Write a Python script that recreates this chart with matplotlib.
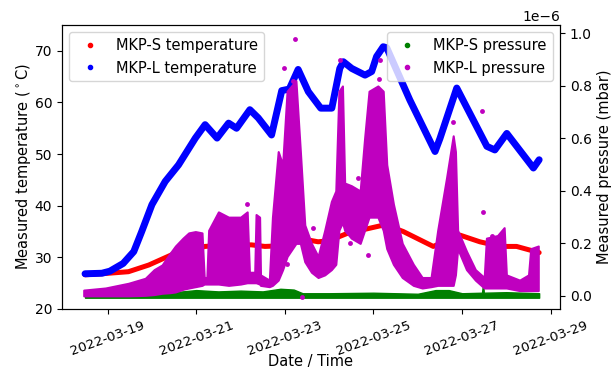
#!/usr/bin/env python3
"""MKP-S / MKP-L temperature and pressure log, 2022-03-18 .. 2022-03-28."""

import matplotlib
matplotlib.use("Agg")
import matplotlib.pyplot as plt
from matplotlib.lines import Line2D
import pandas as pd

START = pd.Timestamp("2022-03-18 00:00")

# ── temperatures (deg C), time in days since START ──
mkp_l_days = [0.49, 0.87, 1.05, 1.17, 1.35, 1.59, 1.77, 2.00, 2.30, 2.60, 2.98,
              3.20, 3.47, 3.73, 3.91, 4.21, 4.40, 4.70, 4.93, 5.10, 5.30, 5.53,
              5.81, 6.06, 6.24, 6.32, 6.51, 6.81, 6.96, 7.07, 7.22, 7.30, 7.82,
              8.39, 8.50, 8.88, 9.56, 9.74, 10.01, 10.61, 10.74]
mkp_l_temp = [26.8, 26.9, 27.3, 27.9, 28.8, 31.1, 35.0, 40.2, 44.7, 47.9, 53.1,
              55.7, 53.1, 56.0, 55.0, 58.6, 57.0, 53.7, 62.3, 62.6, 66.4, 62.1,
              58.9, 58.9, 66.6, 67.9, 66.6, 65.3, 66.0, 68.9, 70.8, 70.6, 60.5,
              50.5, 53.0, 62.8, 51.5, 50.8, 54.0, 47.3, 48.9]

mkp_s_days = [0.49, 1.02, 1.47, 1.93, 2.45, 2.75, 3.20, 3.73, 4.25, 4.55, 4.85,
              5.30, 5.75, 6.00, 6.43, 6.85, 7.26, 7.67, 8.35, 8.95, 9.40, 9.86,
              10.23, 10.74]
mkp_s_temp = [26.6, 26.9, 27.2, 28.5, 30.5, 31.1, 32.1, 32.4, 32.4, 32.1, 32.2,
              33.7, 33.0, 33.2, 34.7, 35.5, 36.3, 35.0, 32.1, 34.3, 33.0, 32.1,
              32.1, 30.9]

# ── pressures (1e-6 mbar): MKP-S narrow band ──
mkp_s_p_days = [0.49, 1.5, 2.0, 2.5, 3.0, 3.5, 4.0, 4.5, 4.9, 5.2, 5.4, 6.0,
                7.0, 8.0, 8.4, 8.7, 9.0, 9.45, 9.47, 9.48, 9.49, 10.0, 10.74]
mkp_s_p_hi = [0.004, 0.005, 0.010, 0.014, 0.022, 0.017, 0.020, 0.017, 0.027,
              0.024, 0.010, 0.010, 0.012, 0.008, 0.022, 0.022, 0.010, 0.012,
              0.040, 0.040, 0.012, 0.014, 0.010]
mkp_s_p_lo = [-0.007] * len(mkp_s_p_days)

# ── MKP-L pressure: envelope of the dense band ──
mkp_l_p_days = [0.46, 0.95, 1.47, 1.85, 2.05, 2.23, 2.40, 2.53, 2.70, 2.83,
                2.98, 3.13, 3.18, 3.24, 3.28, 3.50, 3.73, 4.00, 4.15, 4.20,
                4.32, 4.35, 4.43, 4.45, 4.65, 4.72, 4.85, 4.95, 5.05, 5.25,
                5.35, 5.45, 5.60, 5.75, 5.90, 6.05, 6.15, 6.22, 6.30, 6.35,
                6.50, 6.70, 6.80, 6.90, 7.10, 7.22, 7.30, 7.45, 7.65, 7.90,
                8.10, 8.30, 8.45, 8.65, 8.80, 8.85, 8.90, 9.10, 9.30, 9.50,
                9.55, 9.80, 9.95, 10.00, 10.30, 10.50, 10.55, 10.72]
mkp_l_p_lo = [0.000, 0.000, 0.000, 0.002, 0.005, 0.010, 0.012, 0.015, 0.025,
              0.030, 0.035, 0.040, 0.045, 0.045, 0.045, 0.045, 0.040, 0.045,
              0.050, 0.050, 0.050, 0.050, 0.045, 0.040, 0.035, 0.040, 0.060,
              0.100, 0.150, 0.200, 0.200, 0.130, 0.090, 0.070, 0.080, 0.100,
              0.120, 0.250, 0.280, 0.250, 0.220, 0.200, 0.250, 0.300, 0.300,
              0.250, 0.180, 0.120, 0.070, 0.040, 0.030, 0.035, 0.040, 0.040,
              0.040, 0.080, 0.180, 0.100, 0.060, 0.030, 0.030, 0.030, 0.030,
              0.030, 0.020, 0.020, 0.020, 0.020]
mkp_l_p_hi = [0.022, 0.030, 0.048, 0.067, 0.100, 0.118, 0.160, 0.190, 0.220,
              0.240, 0.245, 0.240, 0.070, 0.070, 0.250, 0.320, 0.300, 0.300,
              0.320, 0.090, 0.090, 0.310, 0.300, 0.080, 0.060, 0.300, 0.550,
              0.500, 0.780, 0.820, 0.550, 0.270, 0.200, 0.150, 0.250, 0.360,
              0.400, 0.780, 0.800, 0.430, 0.420, 0.400, 0.600, 0.780, 0.800,
              0.780, 0.500, 0.350, 0.200, 0.120, 0.070, 0.070, 0.250, 0.450,
              0.610, 0.550, 0.250, 0.170, 0.100, 0.070, 0.220, 0.230, 0.260,
              0.080, 0.060, 0.080, 0.180, 0.190]

# stray MKP-L pressure readings outside the band
stray_days = [4.14, 4.97, 5.04, 5.19, 5.23, 5.38, 5.64, 6.24, 6.47, 6.66, 6.88,
              7.12, 7.15, 7.52, 8.80, 9.46, 9.48, 9.67]
stray_p = [0.35, 0.87, 0.12, 0.82, 0.98, -0.003, 0.26, 0.898, 0.20, 0.45,
           0.156, 0.825, 0.898, 0.137, 0.664, 0.705, 0.32, 0.23]

tick_days = [1, 3, 5, 7, 9, 11]


def to_time(days):
    return START + pd.to_timedelta(days, unit="D")


def main() -> None:
    plt.rcParams["font.size"] = 10.5
    plt.rcParams["ytick.labelsize"] = 10
    fig, ax = plt.subplots(figsize=(6.13, 3.69), dpi=100)
    fig.subplots_adjust(left=0.101, right=0.9135, bottom=0.163, top=0.932)
    ax2 = ax.twinx()

    # ── temperatures ──
    ax.plot(to_time(mkp_s_days), mkp_s_temp, color="r", lw=3.6,
            solid_capstyle="round", solid_joinstyle="round")
    ax.plot(to_time(mkp_l_days), mkp_l_temp, color="b", lw=5,
            solid_capstyle="round", solid_joinstyle="round")

    # ── pressures (mbar) ──
    ax2.fill_between(to_time(mkp_s_p_days), [v * 1e-6 for v in mkp_s_p_lo],
                     [v * 1e-6 for v in mkp_s_p_hi], color="g", lw=1)
    ax2.fill_between(to_time(mkp_l_p_days), [v * 1e-6 for v in mkp_l_p_lo],
                     [v * 1e-6 for v in mkp_l_p_hi], color="m", lw=1.5)
    ax2.plot(to_time(stray_days), [v * 1e-6 for v in stray_p], "o", color="m",
             ms=3.5, mec="none")

    ax.set_ylim(20, 75)
    ax2.set_ylim(-0.0495e-6, 1.032e-6)
    ax.set_xlim(to_time(-0.032), to_time(11.21))
    ax.set_xticks(to_time(tick_days))
    ax.set_xticklabels([d.strftime("%Y-%m-%d") for d in to_time(tick_days)],
                       rotation=20, fontsize=9.7)
    ax.set_xlabel("Date / Time")
    ax.xaxis.set_label_coords(0.5, -0.16)
    ax.set_ylabel(r"Measured temperature ($^\circ$C)", labelpad=1)
    ax2.set_ylabel("Measured pressure (mbar)")

    ax.legend([Line2D([], [], ls="none", marker=".", color="r"),
               Line2D([], [], ls="none", marker=".", color="b")],
              ["MKP-S temperature", "MKP-L temperature"], loc="upper left")
    ax2.legend([Line2D([], [], ls="none", marker=".", color="g"),
                Line2D([], [], ls="none", marker=".", color="m")],
               ["MKP-S pressure", "MKP-L pressure"], loc="upper right")

    fig.savefig("out.png", dpi=100)
    plt.close(fig)


if __name__ == "__main__":
    main()
